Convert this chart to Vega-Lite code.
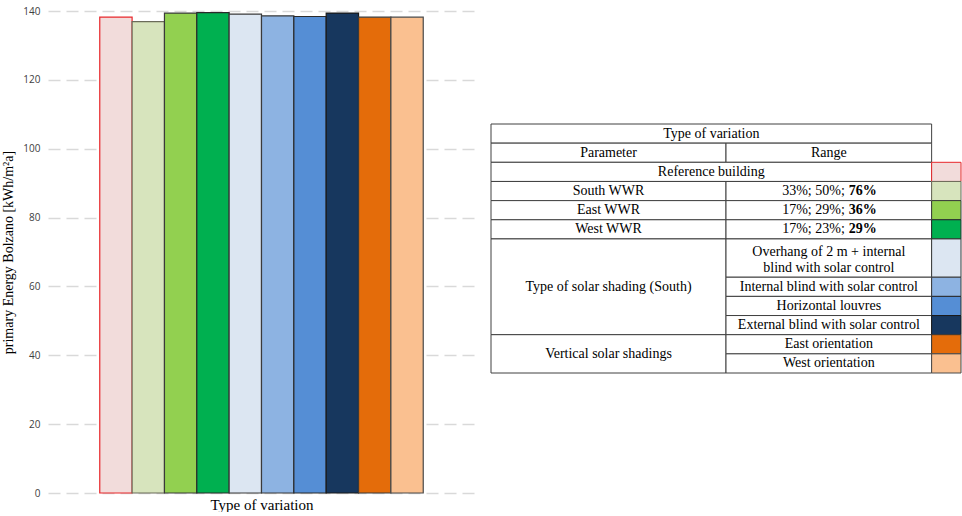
{
  "$schema": "https://vega.github.io/schema/vega-lite/v6.json",
  "padding": {"left": 1, "top": 6, "right": 0, "bottom": 0},
  "bounds": "flush",
  "spacing": 16,
  "config": {"view": {"stroke": null}, "font": "Liberation Serif"},
  "datasets": {
    "bars": [
      {"variation": "Reference building", "energy": 138.2},
      {"variation": "South WWR", "energy": 136.9},
      {"variation": "East WWR", "energy": 139.4},
      {"variation": "West WWR", "energy": 139.5},
      {"variation": "Overhang of 2 m + internal blind with solar control", "energy": 139.1},
      {"variation": "Internal blind with solar control", "energy": 138.6},
      {"variation": "Horizontal louvres", "energy": 138.4},
      {"variation": "External blind with solar control", "energy": 139.4},
      {"variation": "East orientation", "energy": 138.2},
      {"variation": "West orientation", "energy": 138.2}
    ],
    "cells": [
      {"c0": 0, "c1": 15, "r0": 0, "r1": 1, "label": "Type of variation"},
      {"c0": 0, "c1": 8, "r0": 1, "r1": 2, "label": "Parameter"},
      {"c0": 8, "c1": 15, "r0": 1, "r1": 2, "label": "Range"},
      {"c0": 0, "c1": 15, "r0": 2, "r1": 3, "label": "Reference building"},
      {"c0": 0, "c1": 8, "r0": 3, "r1": 4, "label": "South WWR"},
      {"c0": 8, "c1": 15, "r0": 3, "r1": 4, "label": "", "normal": "33%; 50%;", "bold": "76%"},
      {"c0": 0, "c1": 8, "r0": 4, "r1": 5, "label": "East WWR"},
      {"c0": 8, "c1": 15, "r0": 4, "r1": 5, "label": "", "normal": "17%; 29%;", "bold": "36%"},
      {"c0": 0, "c1": 8, "r0": 5, "r1": 6, "label": "West WWR"},
      {"c0": 8, "c1": 15, "r0": 5, "r1": 6, "label": "", "normal": "17%; 23%;", "bold": "29%"},
      {"c0": 0, "c1": 8, "r0": 6, "r1": 11, "label": "Type of solar shading (South)"},
      {"c0": 8, "c1": 15, "r0": 6, "r1": 8, "label": "Overhang of 2 m + internal\nblind with solar control"},
      {"c0": 8, "c1": 15, "r0": 8, "r1": 9, "label": "Internal blind with solar control"},
      {"c0": 8, "c1": 15, "r0": 9, "r1": 10, "label": "Horizontal louvres"},
      {"c0": 8, "c1": 15, "r0": 10, "r1": 11, "label": "External blind with solar control"},
      {"c0": 0, "c1": 8, "r0": 11, "r1": 13, "label": "Vertical solar shadings"},
      {"c0": 8, "c1": 15, "r0": 11, "r1": 12, "label": "East orientation"},
      {"c0": 8, "c1": 15, "r0": 12, "r1": 13, "label": "West orientation"}
    ],
    "swatches": [
      {"variation": "Reference building", "r0": 2, "r1": 3},
      {"variation": "South WWR", "r0": 3, "r1": 4},
      {"variation": "East WWR", "r0": 4, "r1": 5},
      {"variation": "West WWR", "r0": 5, "r1": 6},
      {"variation": "Overhang of 2 m + internal blind with solar control", "r0": 6, "r1": 8},
      {"variation": "Internal blind with solar control", "r0": 8, "r1": 9},
      {"variation": "Horizontal louvres", "r0": 9, "r1": 10},
      {"variation": "External blind with solar control", "r0": 10, "r1": 11},
      {"variation": "East orientation", "r0": 11, "r1": 12},
      {"variation": "West orientation", "r0": 12, "r1": 13}
    ]
  },
  "hconcat": [
    {
      "width": 427,
      "height": 482,
      "data": {"name": "bars"},
      "mark": {"type": "bar", "strokeWidth": 1.2},
      "encoding": {
        "x": {
          "field": "variation", "type": "nominal", "sort": null,
          "scale": {
            "domain": ["(left margin)", "Reference building", "South WWR", "East WWR", "West WWR", "Overhang of 2 m + internal blind with solar control", "Internal blind with solar control", "Horizontal louvres", "External blind with solar control", "East orientation", "West orientation", "(right margin)"],
            "paddingInner": 0, "paddingOuter": 0.6
          },
          "axis": {"labels": false, "ticks": false, "domain": false, "title": "Type of variation",
                   "titleFont": "Liberation Serif", "titleFontSize": 15, "titleFontWeight": "normal",
                   "titleColor": "#000000", "titlePadding": 4}
        },
        "y": {
          "field": "energy", "type": "quantitative",
          "scale": {"domain": [0, 140]},
          "axis": {"values": [0, 20, 40, 60, 80, 100, 120, 140], "grid": true, "gridDash": [12, 6],
                   "gridColor": "#d9d9d9", "gridWidth": 1.5, "ticks": false, "domain": false,
                   "labelFont": "Open Sans", "labelFontSize": 10, "labelColor": "#404040", "labelPadding": 8,
                   "title": "primary Energy Bolzano [kWh/m²a]", "titleFont": "Liberation Serif",
                   "titleFontSize": 14, "titleFontWeight": "normal", "titleColor": "#000000", "titlePadding": 7}
        },
        "fill": {
          "field": "variation", "type": "nominal",
          "scale": {
            "domain": ["Reference building", "South WWR", "East WWR", "West WWR", "Overhang of 2 m + internal blind with solar control", "Internal blind with solar control", "Horizontal louvres", "External blind with solar control", "East orientation", "West orientation"],
            "range": ["#f2dcdb", "#d7e4bd", "#92d050", "#00b050", "#dce6f2", "#8db3e2", "#558ed5", "#17375e", "#e46c0a", "#fac090"]
          },
          "legend": null
        },
        "stroke": {
          "field": "variation", "type": "nominal",
          "scale": {
            "domain": ["Reference building", "South WWR", "East WWR", "West WWR", "Overhang of 2 m + internal blind with solar control", "Internal blind with solar control", "Horizontal louvres", "External blind with solar control", "East orientation", "West orientation"],
            "range": ["#e8262a", "#6b6b5a", "#3a3a3a", "#2a2a2a", "#3a3a3a", "#3a3a3a", "#2a2a2a", "#1a1a1a", "#3a3a3a", "#4a4a4a"]
          },
          "legend": null
        }
      }
    },
    {
      "width": 470,
      "height": 482,
      "layer": [
        {
          "data": {"name": "cells"},
          "mark": {"type": "rect", "fill": "#ffffff", "stroke": "#404040", "strokeWidth": 1},
          "encoding": {
            "x": {"field": "c0", "type": "quantitative", "scale": {"domain": [0, 16], "range": [0, 470], "nice": false, "zero": false}, "axis": null},
            "x2": {"field": "c1"},
            "y": {"field": "r0", "type": "quantitative", "scale": {"domain": [0, 13], "range": [113, 362], "nice": false, "zero": false}, "axis": null},
            "y2": {"field": "r1"}
          }
        },
        {
          "data": {"name": "cells"},
          "transform": [
            {"filter": "indexof(datum.label, '\\n') < 0"},
            {"calculate": "(datum.c0 + datum.c1) / 2", "as": "cx"},
            {"calculate": "(datum.r0 + datum.r1) / 2", "as": "cy"}
          ],
          "mark": {"type": "text", "font": "Liberation Serif", "fontSize": 14, "color": "#000000", "baseline": "middle", "align": "center"},
          "encoding": {
            "x": {"field": "cx", "type": "quantitative"},
            "y": {"field": "cy", "type": "quantitative"},
            "text": {"field": "label"}
          }
        },
        {
          "data": {"name": "cells"},
          "transform": [
            {"filter": "indexof(datum.label, '\\n') >= 0"},
            {"calculate": "(datum.c0 + datum.c1) / 2", "as": "cx"},
            {"calculate": "(datum.r0 + datum.r1) / 2", "as": "cy"}
          ],
          "mark": {"type": "text", "font": "Liberation Serif", "fontSize": 14, "color": "#000000", "lineBreak": "\n", "lineHeight": 16, "baseline": "middle", "align": "center", "dy": -6},
          "encoding": {
            "x": {"field": "cx", "type": "quantitative"},
            "y": {"field": "cy", "type": "quantitative"},
            "text": {"field": "label"}
          }
        },
        {
          "data": {"name": "cells"},
          "transform": [
            {"filter": "datum.bold"},
            {"calculate": "(datum.c0 + datum.c1) / 2", "as": "cx"},
            {"calculate": "(datum.r0 + datum.r1) / 2", "as": "cy"}
          ],
          "mark": {"type": "text", "font": "Liberation Serif", "fontSize": 14, "color": "#000000", "baseline": "middle", "align": "right", "dx": 16},
          "encoding": {
            "x": {"field": "cx", "type": "quantitative"},
            "y": {"field": "cy", "type": "quantitative"},
            "text": {"field": "normal"}
          }
        },
        {
          "data": {"name": "cells"},
          "transform": [
            {"filter": "datum.bold"},
            {"calculate": "(datum.c0 + datum.c1) / 2", "as": "cx"},
            {"calculate": "(datum.r0 + datum.r1) / 2", "as": "cy"}
          ],
          "mark": {"type": "text", "font": "Liberation Serif", "fontSize": 14, "fontWeight": "bold", "color": "#000000", "baseline": "middle", "align": "left", "dx": 20},
          "encoding": {
            "x": {"field": "cx", "type": "quantitative"},
            "y": {"field": "cy", "type": "quantitative"},
            "text": {"field": "bold"}
          }
        },
        {
          "data": {"name": "swatches"},
          "mark": {"type": "rect", "strokeWidth": 1},
          "encoding": {
            "x": {"datum": 15, "type": "quantitative"},
            "x2": {"datum": 16},
            "y": {"field": "r0", "type": "quantitative"},
            "y2": {"field": "r1"},
            "fill": {"field": "variation", "type": "nominal", "legend": null},
            "stroke": {"field": "variation", "type": "nominal", "legend": null}
          }
        }
      ]
    }
  ]
}
